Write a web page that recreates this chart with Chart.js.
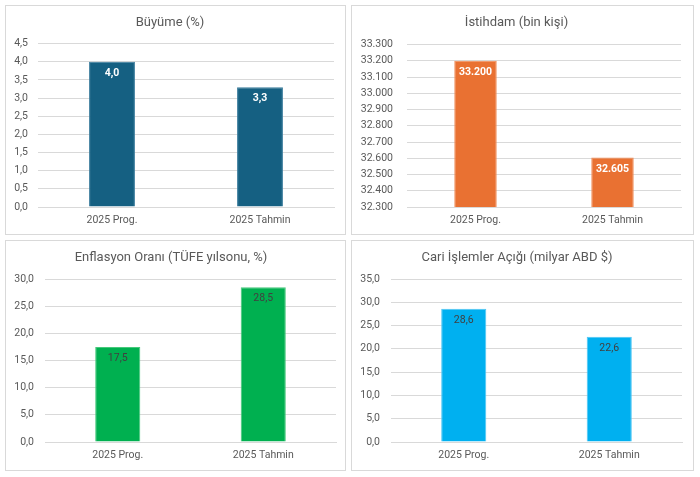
<html>
  <head>
    <meta charset="UTF-8">
    <title>2025 Tahminleri</title>
    <script src="https://cdn.jsdelivr.net/npm/chart.js"></script>
    <style>
  body {
    margin: 0;
    background: #ffffff;
    font-family: Roboto, sans-serif;
  }
  .panel {
    position: absolute;
    box-sizing: border-box;
    border: 1px solid #d9d9d9;
    background: #ffffff;
  }
  .panel canvas {
    display: block;
  }
</style>
  </head>
  <body>
    <div class="panel" style="left:5px; top:5px; width:341px; height:230px;">
      <canvas id="growthChart" width="339" height="228"></canvas>
    </div>
    <div class="panel" style="left:351px; top:5px; width:343px; height:230px;">
      <canvas id="employmentChart" width="341" height="228"></canvas>
    </div>
    <div class="panel" style="left:5px; top:240px; width:341px; height:231px;">
      <canvas id="inflationChart" width="339" height="229"></canvas>
    </div>
    <div class="panel" style="left:351px; top:240px; width:343px; height:231px;">
      <canvas id="accountChart" width="341" height="229"></canvas>
    </div>
    <script>
    // Veriler
    const categories = ['2025 Prog.', '2025 Tahmin'];
    const growthValues = [4.0, 3.3];
    const employmentValues = [33200, 32605];
    const inflationValues = [17.5, 28.5];
    const accountValues = [28.6, 22.6];

    // eksen aralıkları: [min, max, adım]
    const growthTicks = [0, 4.5, 0.5];
    const employmentTicks = [32300, 33300, 100];
    const inflationTicks = [0, 30, 5];
    const accountTicks = [0, 35, 5];

    const fmtDecimal = v => Number(v).toFixed(1).replace('.', ',');
    const fmtThousand = v => Math.round(v).toString().replace(/\B(?=(\d{3})+(?!\d))/g, '.');

    // çubukların içine değer yazan küçük eklenti
    const valueLabels = {
      id: 'valueLabels',
      afterDatasetsDraw(chart, args, opts) {
        const ctx = chart.ctx;
        const meta = chart.getDatasetMeta(0);
        const values = chart.data.datasets[0].data;
        ctx.save();
        ctx.font = (opts.bold ? 'bold ' : '') + '10.5px Roboto, sans-serif';
        ctx.fillStyle = opts.color;
        ctx.textAlign = 'center';
        ctx.textBaseline = 'middle';
        meta.data.forEach((bar, i) => {
          ctx.fillText(opts.format(values[i]), bar.x, bar.y + 11.5);
        });
        ctx.restore();
      }
    };

    function makeChart(id, setup) {
      const [min, max, step] = setup.ticks;
      return new Chart(document.getElementById(id), {
        type: 'bar',
        data: {
          labels: categories,
          datasets: [{
            data: setup.values,
            backgroundColor: setup.color,
            borderColor: setup.edge,
            borderWidth: 1,
            barPercentage: 0.31,
            categoryPercentage: 1
          }]
        },
        plugins: [valueLabels],
        options: {
          responsive: false,
          animation: false,
          devicePixelRatio: 1,
          layout: { padding: { left: 0, right: setup.right, top: 0, bottom: 0 } },
          plugins: {
            legend: { display: false },
            tooltip: { enabled: false },
            title: {
              display: true,
              text: setup.title,
              color: '#595959',
              font: { family: 'Roboto', size: 13, weight: 'normal' },
              padding: { top: 9, bottom: setup.titleGap }
            },
            valueLabels: {
              color: setup.labelColor,
              bold: setup.bold,
              format: setup.format
            }
          },
          scales: {
            x: {
              grid: { display: false, drawTicks: false },
              border: { color: '#d9d9d9', width: 1 },
              ticks: {
                color: '#595959',
                font: { family: 'Roboto', size: 10.5 },
                padding: 7
              },
              afterFit: s => { s.height = setup.bottom; }
            },
            y: {
              min: min,
              max: max,
              grid: { color: '#d9d9d9', lineWidth: 1, drawTicks: false },
              border: { display: false },
              ticks: {
                stepSize: step,
                color: '#595959',
                font: { family: 'Roboto', size: 10.5 },
                padding: setup.tickPad,
                callback: v => setup.format(v)
              },
              afterFit: s => { s.width = setup.left; }
            }
          }
        }
      });
    }

    window.onload = function() {
      makeChart('growthChart', {
        title: 'Büyüme (%)', values: growthValues, ticks: growthTicks,
        color: '#156082', edge: '#3a7c9c', labelColor: '#ffffff', bold: true,
        format: fmtDecimal, left: 32, right: 11, tickPad: 10, titleGap: 13, bottom: 27
      });
      makeChart('employmentChart', {
        title: 'İstihdam (bin kişi)', values: employmentValues, ticks: employmentTicks,
        color: '#E97132', edge: '#f08c56', labelColor: '#ffffff', bold: true,
        format: fmtThousand, left: 55, right: 12, tickPad: 14, titleGap: 14, bottom: 27
      });
      makeChart('inflationChart', {
        title: 'Enflasyon Oranı (TÜFE yılsonu, %)', values: inflationValues, ticks: inflationTicks,
        color: '#00B050', edge: '#45c97a', labelColor: '#404040', bold: false,
        format: fmtDecimal, left: 39, right: 9, tickPad: 11, titleGap: 13.4, bottom: 28
      });
      makeChart('accountChart', {
        title: 'Cari İşlemler Açığı (milyar ABD $)', values: accountValues, ticks: accountTicks,
        color: '#00B0F0', edge: '#4cc6f4', labelColor: '#404040', bold: false,
        format: fmtDecimal, left: 39, right: 11, tickPad: 11, titleGap: 13.4, bottom: 28
      });
    };
  </script>
  </body></html>
